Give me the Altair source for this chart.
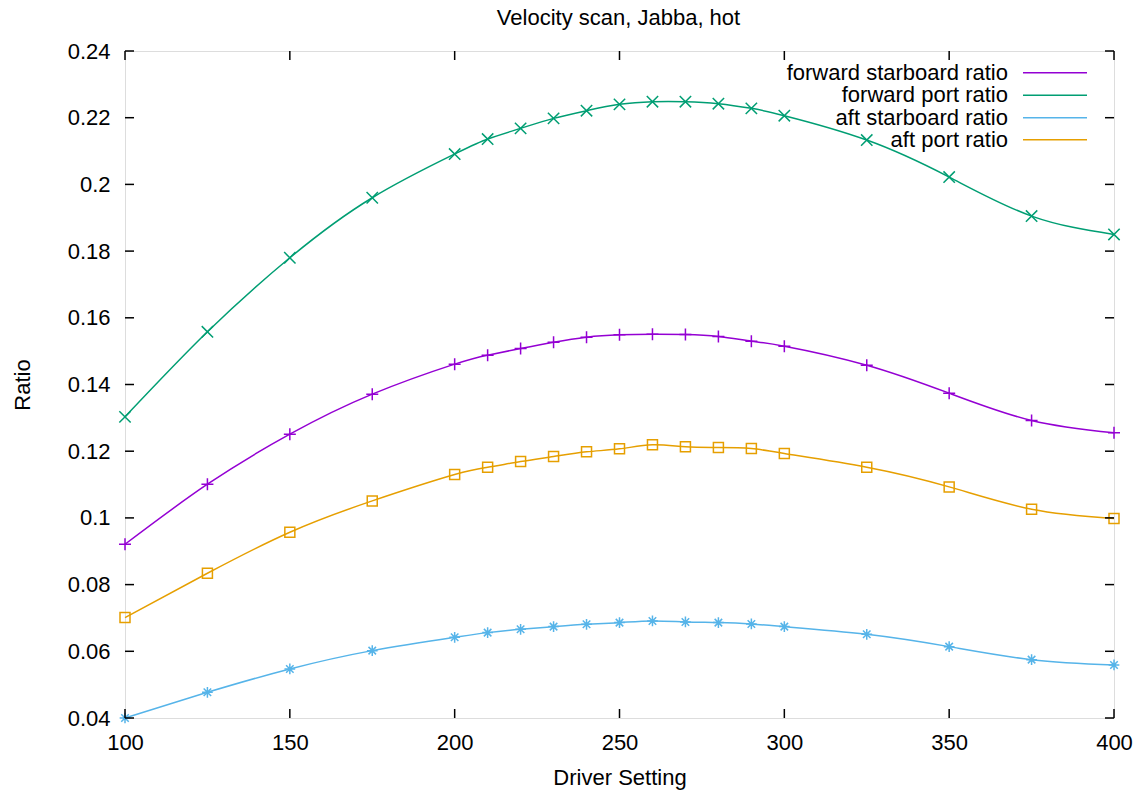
import altair as alt
import pandas as pd

# ---- data ----
driver = [100, 125, 150, 175, 200, 210, 220, 230, 240, 250, 260, 270, 280, 290, 300, 325, 350, 375, 400]

fwd_starboard = [0.0921, 0.1101, 0.1251, 0.1371, 0.1461, 0.1488, 0.1508, 0.1527, 0.1542, 0.1549,
                 0.1551, 0.1550, 0.1544, 0.1530, 0.1515, 0.1458, 0.1374, 0.1292, 0.1255]
fwd_port = [0.1303, 0.1558, 0.1780, 0.1960, 0.2091, 0.2136, 0.2168, 0.2198, 0.2221, 0.2240,
            0.2248, 0.2248, 0.2242, 0.2228, 0.2206, 0.2133, 0.2022, 0.1905, 0.1850]
aft_starboard = [0.0400, 0.0477, 0.0547, 0.0602, 0.0642, 0.0656, 0.0666, 0.0674, 0.0681, 0.0686,
                 0.0691, 0.0688, 0.0686, 0.0682, 0.0674, 0.0651, 0.0614, 0.0575, 0.0559]
aft_port = [0.0701, 0.0834, 0.0957, 0.1051, 0.1130, 0.1152, 0.1169, 0.1184, 0.1198, 0.1207,
            0.1219, 0.1213, 0.1211, 0.1208, 0.1193, 0.1152, 0.1093, 0.1026, 0.0998]

series_names = ["forward starboard ratio", "forward port ratio", "aft starboard ratio", "aft port ratio"]
series_values = [fwd_starboard, fwd_port, aft_starboard, aft_port]
series_colors = ["#9400d3", "#009e73", "#56b4e9", "#e69f00"]
series_shapes = [
    "M-1,0L1,0M0,-1L0,1",
    "M-1,-1L1,1M-1,1L1,-1",
    "M-1,0L1,0M0,-1L0,1M-0.7,-0.7L0.7,0.7M-0.7,0.7L0.7,-0.7",
    "square",
]
series_sizes = [144, 100, 144, 121]

x_ticks = [100, 150, 200, 250, 300, 350, 400]
y_ticks = [0.04, 0.06, 0.08, 0.10, 0.12, 0.14, 0.16, 0.18, 0.20, 0.22, 0.24]

title_text = "Velocity scan, Jabba, hot"
x_title = "Driver Setting"
y_title = "Ratio"

# ---- tables ----
rows = []
for name, vals in zip(series_names, series_values):
    for x, y in zip(driver, vals):
        rows.append({"series": name, "driver": x, "ratio": y})
df = pd.DataFrame(rows)
xt = pd.DataFrame({"driver": x_ticks})
yt = pd.DataFrame({"ratio": y_ticks})

W, H = 989, 667
FONT = "Liberation Sans"
FS = 22
TICK = 9

xscale = alt.Scale(domain=[100, 400], nice=False, zero=False)
yscale = alt.Scale(domain=[0.04, 0.24], nice=False, zero=False)
color = alt.Color("series:N", scale=alt.Scale(domain=series_names, range=series_colors), legend=None)

x_axis = alt.Axis(values=x_ticks, grid=False, domain=False, ticks=False, tickSize=0,
                  labelFont=FONT, labelFontSize=FS, labelColor="black", labelPadding=31,
                  labelBaseline="alphabetic", labelFlush=False,
                  title=x_title, titleFont=FONT, titleFontSize=FS, titleFontWeight="normal",
                  titleColor="black", titleX=W / 2, titleY=66, titleAlign="center",
                  titleBaseline="alphabetic")
y_axis = alt.Axis(values=y_ticks, format="~g", grid=False, domain=False, ticks=False, tickSize=0,
                  labelFont=FONT, labelFontSize=FS, labelColor="black", labelPadding=15,
                  labelBaseline="middle", labelFlush=False,
                  title=y_title, titleFont=FONT, titleFontSize=FS, titleFontWeight="normal",
                  titleColor="black", titleX=-96, titleY=H / 2, titleAngle=270,
                  titleAlign="center", titleBaseline="alphabetic")

X = alt.X("driver:Q", scale=xscale, axis=x_axis)
Y = alt.Y("ratio:Q", scale=yscale, axis=y_axis)

lines = alt.Chart(df).mark_line(interpolate="natural", strokeWidth=1.5).encode(
    x=X, y=Y, color=color, detail="series:N",
)

points = alt.Chart(df).mark_point(filled=False, strokeWidth=1.5, opacity=1).encode(
    x=X, y=Y,
    color=color,
    shape=alt.Shape("series:N", scale=alt.Scale(domain=series_names, range=series_shapes), legend=None),
    size=alt.Size("series:N", scale=alt.Scale(domain=series_names, range=series_sizes), legend=None),
)

tick_style = dict(color="black", strokeWidth=1.5)
bottom_ticks = alt.Chart(xt).mark_rule(**tick_style).encode(
    x=X, y=alt.value(H), y2=alt.value(H - TICK))
top_ticks = alt.Chart(xt).mark_rule(**tick_style).encode(
    x=X, y=alt.value(0), y2=alt.value(TICK))
left_ticks = alt.Chart(yt).mark_rule(**tick_style).encode(
    y=Y, x=alt.value(0), x2=alt.value(TICK))
right_ticks = alt.Chart(yt).mark_rule(**tick_style).encode(
    y=Y, x=alt.value(W), x2=alt.value(W - TICK))

# ---- title as text above the frame ----
title_layer = alt.Chart(pd.DataFrame({"t": [title_text]})).mark_text(
    align="center", baseline="alphabetic", font=FONT, fontSize=FS, color="black"
).encode(text="t:N", x=alt.value(W / 2 - 1), y=alt.value(-26))

# ---- legend (inside, top right, gnuplot style: label then line sample) ----
legend_layers = []
leg_rows = [21.7, 44.2, 66.7, 88.7]
for name, col, ly in zip(series_names, series_colors, leg_rows):
    ldf = pd.DataFrame({"label": [name]})
    legend_layers.append(
        alt.Chart(ldf).mark_text(align="right", baseline="middle", font=FONT, fontSize=FS,
                                 color="black").encode(
            text="label:N", x=alt.value(883), y=alt.value(ly)))
    legend_layers.append(
        alt.Chart(ldf).mark_rule(color=col, strokeWidth=1.5).encode(
            x=alt.value(898), x2=alt.value(962), y=alt.value(ly)))

chart = alt.layer(
    lines, points, bottom_ticks, top_ticks, left_ticks, right_ticks, title_layer, *legend_layers
).properties(
    width=W,
    height=H,
    autosize=alt.AutoSizeParams(type="none"),
    padding={"left": 125, "top": 51, "right": 27, "bottom": 73},
).configure_view(
    stroke="black", strokeWidth=1.5
).configure(background="white")

chart.save("out.html", embed_options={"renderer": "svg", "actions": False})
